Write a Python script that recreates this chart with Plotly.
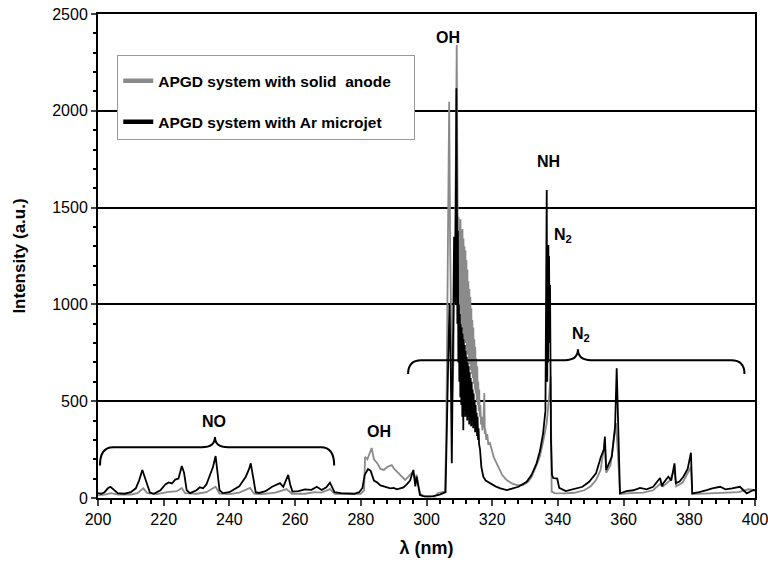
import plotly.graph_objects as go

# ---------------- data ----------------
gray_x = [200, 202, 204, 206, 210, 212, 213.8, 215, 218, 221, 224, 225.5, 226.5, 230, 233, 235.8, 237,
          240, 243, 246.3, 247.5, 250, 254, 257.4, 259, 263, 266, 268, 270.6, 272, 275, 278, 280,
          281, 281.3, 282, 283.3, 284, 285, 286, 287, 288, 289.4, 290.2, 291.3, 292.5, 293.5, 294.5,
          295.9, 296.5, 297, 297.6, 298.2, 299.5, 302.6, 303.5, 305.6,
          306.0, 306.3, 306.6, 306.9, 307.2, 307.5, 307.8, 308.2, 308.6, 308.9, 309.2, 309.4,
          309.60, 309.75, 309.90, 310.05, 310.20, 310.35, 310.50, 310.65, 310.80, 310.95, 311.10,
          311.25, 311.40, 311.55, 311.70, 311.85, 312.00, 312.15, 312.30, 312.45, 312.60, 312.75,
          312.90, 313.05, 313.20, 313.35, 313.50, 313.65, 313.80, 313.95, 314.10, 314.25, 314.40,
          314.55, 314.70, 314.85, 315.00, 315.15, 315.30, 315.45, 315.60, 315.75, 315.90, 316.05,
          316.20, 316.40, 316.60, 316.80, 317.00, 317.30, 317.60, 317.75, 317.90, 318.20, 318.50,
          318.80, 319.3, 320.5, 321.9, 323, 324.4, 326, 327.5, 329.4, 331, 332, 333.3, 334.5, 335.5,
          336.6, 337.2, 337.8, 338.1, 339, 342, 345, 348, 350, 351.6, 353, 354.3, 354.7, 356, 357.7,
          358.2, 358.9, 362, 366, 369, 371, 372, 374, 375.5, 376, 378, 380.5, 380.9, 385, 390, 395,
          398, 400]
gray_y = [15, 18, 25, 18, 18, 25, 50, 25, 20, 30, 35, 52, 25, 22, 30, 58, 22,
          20, 28, 52, 22, 20, 28, 46, 22, 22, 30, 28, 46, 22, 20, 20, 22,
          40, 213, 200, 258, 200, 180, 150, 145, 160, 170, 150, 129, 110, 93, 110,
          136, 100, 120, 60, 20, 7, 7, 26, 33,
          300, 900, 1600, 2047, 1300, 900, 500, 700, 1200, 1700, 2340, 1500,
          1100, 1453, 950, 1400, 900, 1440, 980, 1380, 900, 1390, 870,
          1340, 850, 1300, 820, 1280, 800, 1229, 760, 1180, 740, 1120,
          700, 1080, 690, 1040, 660, 980, 640, 920, 620, 880, 590,
          820, 560, 780, 540, 720, 500, 680, 480, 600, 450, 560,
          420, 480, 380, 420, 350, 380, 542, 330, 360, 300, 330,
          280, 284, 210, 162, 120, 93, 75, 67, 67, 85, 110, 160, 213, 290,
          387, 500, 627, 33, 25, 24, 27, 40, 60, 93, 145, 290, 130, 170, 387,
          250, 20, 25, 28, 40, 72, 60, 90, 145, 60, 80, 160, 20, 24, 28, 30,
          45, 40]

black_x = [200, 201, 202, 203, 203.8, 205, 206, 208, 210, 211.5, 212.5, 213.5, 214.2, 215, 215.8, 217,
           219, 220.5, 221.5, 222.5, 223.5, 224.5, 225.5, 226.2, 227, 228, 230, 231, 232, 233, 234,
           235, 235.8, 236.5, 237, 238, 240, 241, 242, 243, 244, 245, 246, 246.5, 247.2, 248, 249,
           251, 253, 254.5, 255.4, 256.4, 257.4, 257.9, 258.5, 259.2, 261, 263, 265, 266.6, 268.1,
           269.5, 270.6, 271.4, 272, 274, 276, 278, 279.5, 280.5, 281.2, 282.2, 283, 284, 285, 286,
           287, 288, 289, 290, 291, 292, 293, 294, 295, 296, 296.6, 297, 297.5, 298, 299, 300, 302,
           304, 305.8, 306.2, 306.6, 307.0, 307.4, 307.7, 308.0, 308.4, 308.8, 309.1,
           309.4, 309.55, 309.7, 309.85, 310.0, 310.15, 310.3, 310.45, 310.6, 310.75, 310.9, 311.05,
           311.2, 311.35, 311.5, 311.65, 311.8, 311.95, 312.1, 312.25, 312.4, 312.55, 312.7, 312.85,
           313.0, 313.15, 313.3, 313.45, 313.6, 313.75, 313.9, 314.05, 314.2, 314.35, 314.5, 314.65,
           314.8, 314.95, 315.1, 315.25, 315.4, 315.55, 315.7, 315.85, 316.0, 316.3, 316.7, 317.3,
           318, 319.3, 321, 322.5, 324.4, 326, 328, 330.5, 332, 333.5, 334.5, 335.5, 336.2, 336.6,
           336.75, 336.9, 337.0, 337.1, 337.2, 337.3, 337.45, 337.6, 337.75, 337.9, 338.2, 338.6,
           339.8, 340.4, 342.4, 344.5, 347.5, 349.5, 351.6, 353.1, 354.0, 354.3, 354.7, 356.4, 357.4,
           357.9, 358.3, 358.9, 360.9, 363, 365, 367, 369, 371.1, 371.7, 372.1, 373.6, 374.5, 375.5,
           375.9, 377, 378.2, 379.5, 380.5, 380.9, 383, 385.3, 387, 389.4, 391, 393, 395.4, 396.5,
           397.5, 399.5, 400]
black_y = [25, 22, 30, 50, 58, 40, 25, 22, 30, 50, 90, 145, 110, 60, 28, 22,
           40, 70, 80, 75, 95, 100, 165, 130, 40, 25, 40, 55, 50, 70, 110,
           160, 217, 120, 40, 25, 30, 40, 50, 60, 85, 110, 150, 179, 110, 30, 26,
           35, 58, 70, 77, 58, 100, 119, 70, 33, 35, 45, 42, 58, 41,
           55, 79, 55, 30, 25, 22, 22, 30, 52, 120, 150, 140, 90, 80, 65,
           60, 55, 50, 52, 45, 50, 55, 70, 90, 145, 60, 110, 50, 15, 10, 8, 10,
           18, 30, 300, 700, 1000, 650, 180, 900, 1350, 1000, 2116,
           900, 1380, 700, 1000, 600, 950, 520, 900, 480, 880, 420, 850,
           350, 820, 450, 790, 420, 760, 430, 730, 400, 700, 420, 680,
           380, 650, 400, 620, 370, 600, 400, 560, 360, 540, 400, 500,
           340, 480, 360, 440, 320, 420, 300, 360, 280, 250, 160, 110,
           90, 77, 60, 50, 41, 48, 58, 84, 120, 179, 240, 334, 450, 1591,
           600, 1200, 700, 1307, 800, 1250, 900, 1100, 500, 300, 120, 103,
           100, 52, 36, 46, 58, 84, 127, 213, 250, 317, 145, 213, 368,
           670, 350, 24, 36, 40, 52, 45, 58, 103, 60, 77, 110, 90, 179,
           77, 85, 110, 150, 234, 24, 30, 41, 50, 58, 45, 50, 58, 40,
           24, 41, 40]

series_names = ["APGD system with solid  anode", "APGD system with Ar microjet"]
series_colors = ["#8a8a8a", "#000000"]

x_ticks = [200, 220, 240, 260, 280, 300, 320, 340, 360, 380, 400]
y_ticks = [0, 500, 1000, 1500, 2000, 2500]

# band labels: (text, lambda, intensity)
labels = [("OH", 306.4, 2380), ("NH", 337.0, 1740), ("N<sub>2</sub>", 341.6, 1355),
          ("N<sub>2</sub>", 346.9, 845), ("NO", 235.3, 393), ("OH", 285.5, 346)]
# braces: (x_start, x_centre, x_end, y_line, y_ends, y_tip)
braces = [(200.6, 235.6, 271.9, 262, 168, 315),
          (294.4, 346.1, 396.8, 712, 640, 768)]

FONT = "Liberation Sans, Arial, sans-serif"
PAD = "\u00a0" * 4

fig = go.Figure()
# spectra (legend shown through thicker legend-only entries below)
fig.add_trace(go.Scatter(x=gray_x, y=gray_y, mode="lines", name=series_names[0],
                         line=dict(color=series_colors[0], width=1.8), showlegend=False))
fig.add_trace(go.Scatter(x=black_x, y=black_y, mode="lines", name=series_names[1],
                         line=dict(color=series_colors[1], width=1.8), showlegend=False))
for i, (nm, col) in enumerate(zip(series_names, series_colors)):
    fig.add_trace(go.Scatter(x=[None], y=[None], mode="lines",
                             name="<b>" + nm + "</b>" + (PAD if i == 0 else ""),
                             line=dict(color=col, width=4.5), legendgroup=f"g{i}"))

for txt, lx, ly in labels:
    fig.add_annotation(x=lx, y=ly, text="<b>" + txt + "</b>", showarrow=False,
                       font=dict(family=FONT, size=16, color="black"))

for (xs, xc, xe, yl, ye, yt) in braces:
    r = 4.0
    path = (f"M {xs},{ye} Q {xs},{yl} {xs + r},{yl} L {xc - r},{yl} "
            f"Q {xc},{yl} {xc},{yt} Q {xc},{yl} {xc + r},{yl} L {xe - r},{yl} "
            f"Q {xe},{yl} {xe},{ye}")
    fig.add_shape(type="path", path=path, xref="x", yref="y",
                  line=dict(color="black", width=2))

fig.update_layout(
    width=768, height=564,
    margin=dict(l=98, r=13, t=14, b=66, autoexpand=False),
    paper_bgcolor="white", plot_bgcolor="white",
    font=dict(family=FONT, color="black"),
    showlegend=True,
    legend=dict(x=0.029, y=0.915, xanchor="left", yanchor="top",
                bgcolor="white", bordercolor="#999999", borderwidth=1.2,
                font=dict(family=FONT, size=15.5, color="black"),
                title=dict(text=" ", font=dict(size=6)),
                tracegroupgap=18, itemwidth=30),
)
fig.update_xaxes(range=[200, 400], tickvals=x_ticks, ticks="outside", ticklen=6, tickwidth=1.5,
                 showline=True, linecolor="black", linewidth=2, mirror=True, showgrid=False,
                 zeroline=False, tickfont=dict(size=16, family=FONT), automargin=False,
                 ticklabeloverflow="allow",
                 minor=dict(dtick=4, tick0=200, ticks="outside", ticklen=4, tickcolor="black"),
                 title=dict(text="<b>λ (nm)</b>", font=dict(size=18, family=FONT), standoff=14))
fig.update_yaxes(range=[0, 2500], tickvals=y_ticks, ticks="outside", ticklen=5, tickwidth=1.5,
                 showline=True, linecolor="black", linewidth=2, mirror=True,
                 showgrid=True, gridcolor="black", gridwidth=1.6, zeroline=False,
                 tickfont=dict(size=16, family=FONT), automargin=False,
                 minor=dict(dtick=100, ticks="outside", ticklen=3, tickcolor="black", showgrid=False),
                 title=dict(text="<b>Intensity (a.u.)</b>", font=dict(size=17, family=FONT), standoff=22))

fig.write_html("out.html", config={"displayModeBar": False},
               post_script="document.body.style.margin='0';")
